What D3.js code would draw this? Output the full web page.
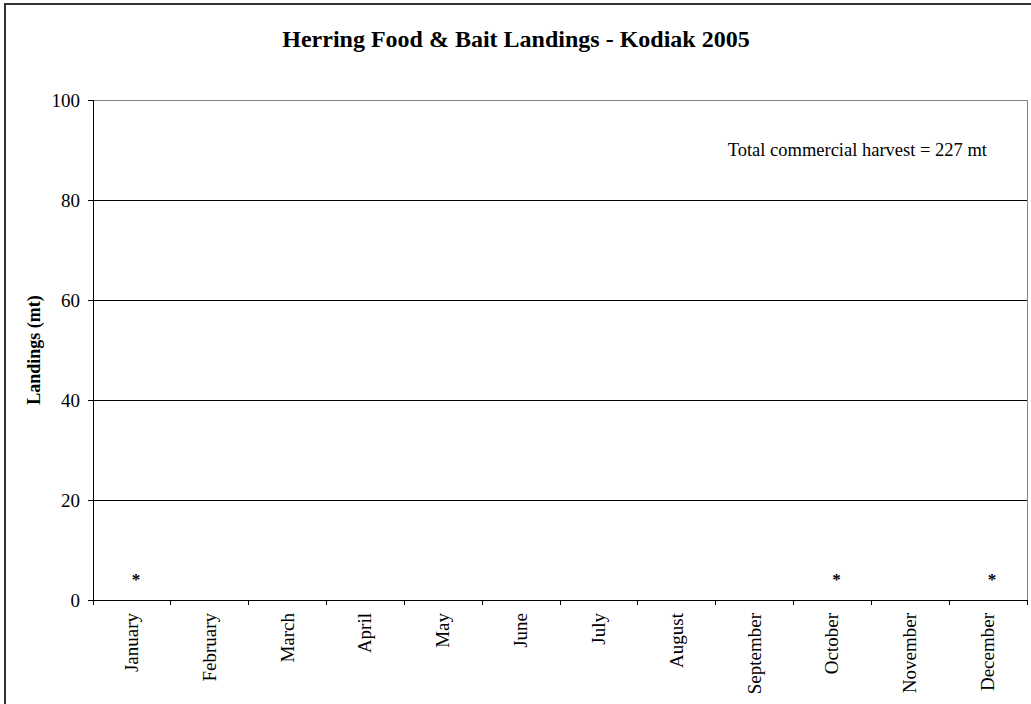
<!DOCTYPE html>
<html><head><meta charset="utf-8">
<script src="https://cdn.jsdelivr.net/npm/d3@7"></script>
<style>
html,body{margin:0;padding:0;background:#fff;overflow:hidden;}
text{font-family:"Liberation Serif","Times New Roman",serif;fill:#000;}
</style></head>
<body>
<svg id="chart" width="1031" height="704"></svg>
<script>
const months = ["January","February","March","April","May","June","July","August","September","October","November","December"];
const landings = [0,0,0,0,0,0,0,0,0,0,0,0];
const confidential = ["*","","","","","","","","","*","","*"];
const yTicks = [0,20,40,60,80,100];
const titleText = "Herring Food & Bait Landings - Kodiak 2005";
const yLabel = "Landings (mt)";
const note = "Total commercial harvest = 227 mt";

const svg = d3.select("#chart");
const W = 1031, H = 704;
const m = {left:93, right:4, top:100, bottom:104};
const pw = W - m.left - m.right, ph = H - m.top - m.bottom;

// outer border
svg.append("rect").attr("x",5).attr("y",4).attr("width",W+10).attr("height",H+10)
  .attr("fill","#fff").attr("stroke","#333").attr("stroke-width",2);

const x = d3.scaleBand().domain(months).range([0,pw]).paddingInner(0.5).paddingOuter(0.25);
const xEdge = d3.scaleLinear().domain([0,months.length]).range([0,pw]);
const y = d3.scaleLinear().domain([0,100]).range([ph,0]);

const g = svg.append("g").attr("transform",`translate(${m.left},${m.top})`);

// gridlines
g.append("g").selectAll("line").data(yTicks.filter(d=>d>0)).join("line")
  .attr("x1",0).attr("x2",pw).attr("y1",d=>y(d)).attr("y2",d=>y(d))
  .attr("stroke","#000").attr("stroke-width",1).attr("shape-rendering","crispEdges");

// plot area right/top border
g.append("line").attr("x1",pw).attr("x2",pw).attr("y1",0).attr("y2",ph)
  .attr("stroke","#808080").attr("shape-rendering","crispEdges");
g.append("line").attr("x1",0).attr("x2",pw).attr("y1",0).attr("y2",0)
  .attr("stroke","#808080").attr("shape-rendering","crispEdges");

// bars (all zero)
g.append("g").selectAll("rect").data(landings).join("rect")
  .attr("x",(d,i)=>x(months[i])).attr("width",x.bandwidth())
  .attr("y",d=>y(d)).attr("height",d=>y(0)-y(d)).attr("fill","#000");

// y axis
const yAxis = d3.axisLeft(y).tickValues(yTicks).tickSize(5).tickPadding(8);
const ya = g.append("g").call(yAxis);
ya.select(".domain").attr("stroke","#000").attr("shape-rendering","crispEdges");
ya.selectAll(".tick line").attr("stroke","#000").attr("shape-rendering","crispEdges");
ya.selectAll("text").style("font-family","'Liberation Serif',serif").style("font-size","19px").attr("fill","#000");

// x axis baseline and ticks at category edges
g.append("line").attr("x1",0).attr("x2",pw).attr("y1",ph).attr("y2",ph)
  .attr("stroke","#000").attr("shape-rendering","crispEdges");
g.append("g").selectAll("line").data(d3.range(months.length+1)).join("line")
  .attr("x1",d=>xEdge(d)).attr("x2",d=>xEdge(d)).attr("y1",ph).attr("y2",ph+5)
  .attr("stroke","#000").attr("shape-rendering","crispEdges");

// month labels
g.append("g").selectAll("text").data(months).join("text")
  .attr("transform",d=>`translate(${x(d)+x.bandwidth()/2+6},${ph+13}) rotate(-90)`)
  .attr("text-anchor","end").style("font-size","19px").text(d=>d);

// confidential markers
g.append("g").selectAll("text").data(confidential).join("text")
  .attr("x",(d,i)=>x(months[i])+x.bandwidth()/2+4)
  .attr("y",(d,i)=>y(landings[i])-15)
  .attr("text-anchor","middle").style("font-size","17px").style("font-weight","bold").text(d=>d);

// title
svg.append("text").attr("x",516).attr("y",47).attr("text-anchor","middle")
  .style("font-size","24px").style("font-weight","bold").text(titleText);

// y label
svg.append("text").attr("transform",`translate(40,${m.top+ph/2}) rotate(-90)`)
  .attr("text-anchor","middle").style("font-size","18px").style("font-weight","bold").text(yLabel);

// note
svg.append("text").attr("x",m.left+pw-40).attr("y",156).attr("text-anchor","end")
  .style("font-size","18.5px").text(note);
</script>
</body></html>
